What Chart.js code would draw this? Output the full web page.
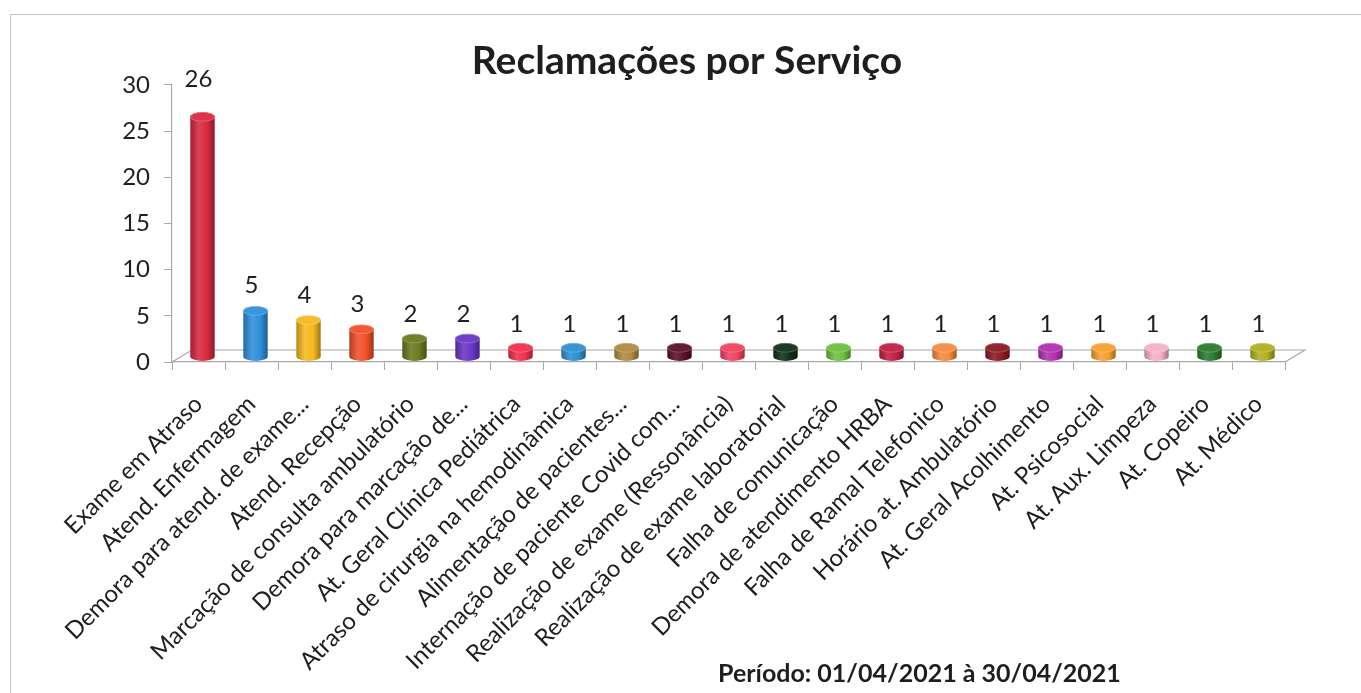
<!DOCTYPE html>
<html><head><meta charset="utf-8">
<script src="https://cdn.jsdelivr.net/npm/chart.js@4.4.1/dist/chart.umd.min.js"></script>
<style>
html,body{margin:0;padding:0;background:#fff;overflow:hidden;}
#wrap{position:absolute;left:0;top:0;width:1361px;height:693px;}
#frame{position:absolute;left:10px;top:14px;width:1360px;height:700px;border:1px solid #c4c4c4;box-sizing:border-box;}
#c{position:absolute;left:0;top:0;}
#foot{position:absolute;left:718px;top:657px;font:bold 25px Lato;color:#1e1e1e;white-space:nowrap;}
</style></head><body>
<div id="wrap"><div id="frame"></div><canvas id="c" width="1361" height="693"></canvas><div id="foot">Período: 01/04/2021 à 30/04/2021</div></div>
<script>
const categories = ["Exame em Atraso","Atend. Enfermagem","Demora para atend. de exame...","Atend. Recepção","Marcação de consulta ambulatório","Demora para marcação de...","At. Geral Clínica Pediátrica","Atraso de cirurgia na hemodinâmica","Alimentação de pacientes...","Internação de paciente Covid com...","Realização de exame (Ressonância)","Realização de exame laboratorial","Falha de comunicação","Demora de atendimento HRBA","Falha de Ramal Telefonico","Horário at. Ambulatório","At. Geral Acolhimento","At. Psicosocial","At. Aux. Limpeza","At. Copeiro","At. Médico"];
const complaints = [26,5,4,3,2,2,1,1,1,1,1,1,1,1,1,1,1,1,1,1,1];
const barColors = ["#d82840","#2f8fdc","#f5b820","#f0502a","#6b7a1e","#6a35c8","#f0304a","#2e8fd0","#b08a40","#5a1028","#f24060","#10301a","#6cc040","#c02040","#f58a40","#8a1a20","#b030b0","#f5a030","#f5b0c8","#2a7a30","#b0b020"];
const yTicks = [0,5,10,15,20,25,30];
const chartTitle = "Reclamações por Serviço";

function shade(hex, amt){
  const n = parseInt(hex.slice(1),16);
  let r=(n>>16)&255,g=(n>>8)&255,b=n&255;
  const t = amt<0?0:255, p=Math.abs(amt);
  r=Math.round((t-r)*p+r); g=Math.round((t-g)*p+g); b=Math.round((t-b)*p+b);
  return `rgb(${r},${g},${b})`;
}

const DEPTH_X = 20, DEPTH_Y = -12, BAR_DX = 4, BAR_DY = -5;

const cylPlugin = {
  id:'cyl',
  beforeDatasetsDraw(chart){
    const {ctx, chartArea:a} = chart;
    ctx.save();
    ctx.strokeStyle = '#a8a8a8'; ctx.lineWidth = 1.2;
    ctx.beginPath();
    ctx.moveTo(a.left, a.bottom);
    ctx.lineTo(a.left+DEPTH_X, a.bottom+DEPTH_Y);
    ctx.lineTo(a.right+DEPTH_X, a.bottom+DEPTH_Y);
    ctx.lineTo(a.right, a.bottom);
    ctx.stroke();
    ctx.restore();
  },
  afterDatasetsDraw(chart){
    const {ctx} = chart;
    const meta = chart.getDatasetMeta(0);
    ctx.save();
    meta.data.forEach((bar,i)=>{
      const cx = bar.x + BAR_DX, top = bar.y + BAR_DY, bottom = bar.base + BAR_DY;
      const rx = bar.width/2, ry = Math.max(3, bar.width*0.18);
      const col = barColors[i];
      const g = ctx.createLinearGradient(cx-rx,0,cx+rx,0);
      g.addColorStop(0, shade(col,-0.25));
      g.addColorStop(0.35, shade(col,0.12));
      g.addColorStop(0.7, col);
      g.addColorStop(1, shade(col,-0.35));
      ctx.fillStyle = g;
      ctx.beginPath();
      ctx.moveTo(cx-rx, top);
      ctx.lineTo(cx-rx, bottom);
      ctx.ellipse(cx, bottom, rx, ry, 0, Math.PI, 0, true);
      ctx.lineTo(cx+rx, top);
      ctx.closePath();
      ctx.fill();
      ctx.fillStyle = shade(col,0.05);
      ctx.beginPath();
      ctx.ellipse(cx, top, rx, ry, 0, 0, Math.PI*2);
      ctx.fill();
      ctx.strokeStyle = shade(col,0.3); ctx.lineWidth = 0.8;
      ctx.stroke();
      const off = 28 + (bar.base - bar.y) * 0.06;
      ctx.fillStyle = '#1e1e1e';
      ctx.font = '24px Lato';
      ctx.textAlign = 'center'; ctx.textBaseline = 'middle';
      ctx.fillText(String(complaints[i]), bar.x, bar.y - off);
    });
    ctx.restore();
  }
};

new Chart(document.getElementById('c'), {
  type:'bar',
  data:{ labels:categories, datasets:[{ data:complaints, backgroundColor:'rgba(0,0,0,0)', borderWidth:0, categoryPercentage:1, barPercentage:0.46 }]},
  options:{
    responsive:false, animation:false, devicePixelRatio:1,
    layout:{ padding:{ left:89, right:76, top:0, bottom:0 } },
    plugins:{
      legend:{display:false}, tooltip:{enabled:false},
      title:{ display:true, text:chartTitle, color:'#1e1e1e', font:{family:'Lato', size:39, weight:'bold', lineHeight:1.2}, padding:{top:38,bottom:0} }
    },
    scales:{
      x:{
        offset:true,
        border:{display:true,color:'#a8a8a8',width:1.2},
        grid:{display:true, drawOnChartArea:false, drawTicks:true, tickLength:8, color:'#a8a8a8', offset:true},
        ticks:{ color:'#1e1e1e', font:{family:'Lato', size:24}, minRotation:45, maxRotation:45, autoSkip:false, padding:20 },
        afterFit(s){ s.height = 693-362; }
      },
      y:{
        min:0, max:30,
        afterBuildTicks(s){ s.ticks = yTicks.map(v=>({value:v})); },
        border:{display:true,color:'#a8a8a8',width:1.2},
        grid:{display:true, drawOnChartArea:false, drawTicks:true, tickLength:8, color:'#a8a8a8'},
        ticks:{ color:'#1e1e1e', font:{family:'Lato', size:24}, padding:14 },
        afterFit(s){ s.width = 83; }
      }
    }
  },
  plugins:[cylPlugin]
});
</script>
</body></html>
